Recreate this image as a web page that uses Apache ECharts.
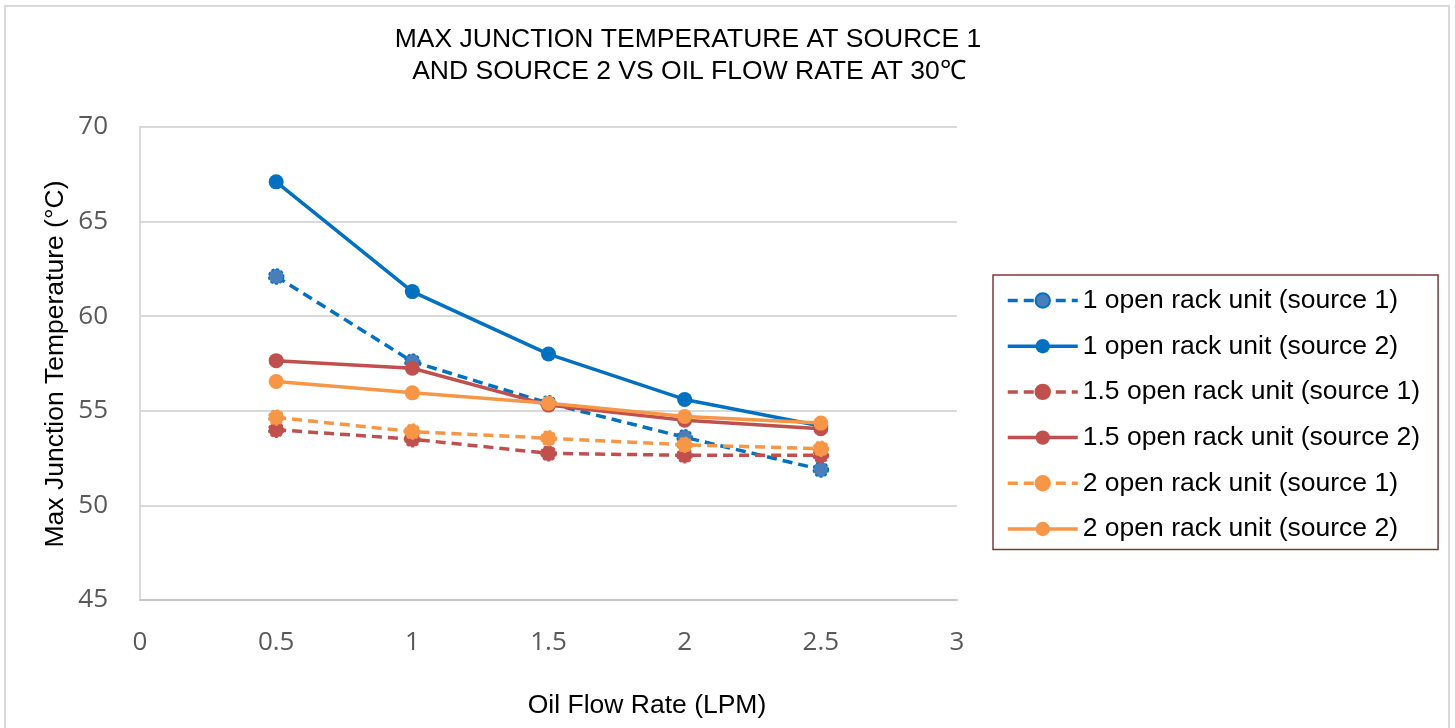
<!DOCTYPE html>
<html>
<head>
<meta charset="utf-8">
<script src="https://cdn.jsdelivr.net/npm/echarts@6/dist/echarts.min.js"></script>
<style>html,body{margin:0;padding:0;background:#fff;}#c{width:1455px;height:728px;}</style>
</head>
<body>
<div id="c"></div>
<script>
var flowRates = [0.5, 1, 1.5, 2, 2.5];
var seriesNames = [
  '1 open rack unit (source 1)',
  '1 open rack unit (source 2)',
  '1.5 open rack unit (source 1)',
  '1.5 open rack unit (source 2)',
  '2 open rack unit (source 1)',
  '2 open rack unit (source 2)'
];
var oru1Source1 = [62.1, 57.6, 55.4, 53.6, 51.9];
var oru1Source2 = [67.1, 61.3, 58.0, 55.6, 54.2];
var oru15Source1 = [54.0, 53.5, 52.75, 52.65, 52.65];
var oru15Source2 = [57.65, 57.25, 55.3, 54.5, 54.05];
var oru2Source1 = [54.65, 53.9, 53.55, 53.2, 53.0];
var oru2Source2 = [56.55, 55.95, 55.4, 54.7, 54.35];
var yTicks = [45, 50, 55, 60, 65, 70];
var xTicks = [0, 0.5, 1, 1.5, 2, 2.5, 3];

var allValues = [oru1Source1, oru1Source2, oru15Source1, oru15Source2, oru2Source1, oru2Source2];
var colors = ['#0070c0', '#0070c0', '#c0504d', '#c0504d', '#f79646', '#f79646'];
var markerFill = ['#4a7ebb', '#0070c0', '#c0504d', '#c0504d', '#f79646', '#f79646'];
var dashed = [true, false, true, false, true, false];

var FONT = "'Liberation Sans', Arial, sans-serif";
var FS = 26.5;

var series = allValues.map(function (vals, i) {
  return {
    name: seriesNames[i],
    type: 'line',
    data: vals.map(function (v, j) { return [flowRates[j], v]; }),
    symbol: 'circle',
    symbolSize: 15,
    lineStyle: { color: colors[i], width: 3.5, type: dashed[i] ? [10, 6] : 'solid' },
    itemStyle: dashed[i]
      ? { color: markerFill[i], borderColor: colors[i], borderWidth: 1.5, borderType: [3, 2] }
      : { color: markerFill[i], borderColor: colors[i], borderWidth: 0 },
    z: 2 + i,
    animation: false
  };
});

var chart = echarts.init(document.getElementById('c'));
chart.setOption({
  animation: false,
  backgroundColor: '#fff',
  grid: { left: 140, right: 498, top: 127, bottom: 128 },
  xAxis: {
    type: 'value',
    min: xTicks[0],
    max: xTicks[xTicks.length - 1],
    interval: 0.5,
    axisLine: { show: true, lineStyle: { color: '#c8c8c8', width: 2 } },
    axisTick: { show: false },
    splitLine: { show: false },
    axisLabel: { color: '#595959', fontFamily: "'Open Sans', sans-serif", fontSize: 26, margin: 30 }
  },
  yAxis: {
    type: 'value',
    min: yTicks[0],
    max: yTicks[yTicks.length - 1],
    interval: 5,
    axisLine: { show: true, lineStyle: { color: '#d9d9d9', width: 2 } },
    axisTick: { show: false },
    splitLine: { show: true, lineStyle: { color: '#d9d9d9', width: 2 } },
    axisLabel: { color: '#595959', fontFamily: "'Open Sans', sans-serif", fontSize: 26, margin: 32 }
  },
  legend: {
    orient: 'vertical',
    left: 993,
    top: 275,
    data: seriesNames,
    itemWidth: 70,
    itemHeight: 18,
    itemGap: 18.7,
    padding: [12, 18, 7, 13],
    borderColor: '#7b3a3a',
    borderWidth: 1.5,
    lineStyle: { width: 3.5 },
    textStyle: { color: '#000', fontFamily: FONT, fontSize: FS, lineHeight: 26 }
  },
  graphic: [
    { type: 'rect', silent: true, z: -1,
      shape: { x: 5, y: 6, width: 1444, height: 740 },
      style: { fill: null, stroke: '#d9d9d9', lineWidth: 2 } },
    { type: 'text', silent: true,
      style: { text: 'MAX JUNCTION TEMPERATURE AT SOURCE 1', x: 688, y: 40, textAlign: 'center', textVerticalAlign: 'middle', font: '26.5px ' + FONT, fill: '#000' } },
    { type: 'text', silent: true,
      style: { text: 'AND SOURCE 2 VS OIL FLOW RATE AT 30\u2103', x: 689, y: 72, textAlign: 'center', textVerticalAlign: 'middle', font: '26.5px ' + FONT, fill: '#000' } },
    { type: 'text', silent: true,
      style: { text: 'Oil Flow Rate (LPM)', x: 647, y: 706, textAlign: 'center', textVerticalAlign: 'middle', font: FS + 'px ' + FONT, fill: '#000' } },
    { type: 'text', silent: true, x: 56, y: 364, rotation: Math.PI / 2,
      style: { text: 'Max Junction Temperature (\u00b0C)', x: 0, y: 0, textAlign: 'center', textVerticalAlign: 'middle', font: FS + 'px ' + FONT, fill: '#000' } }
  ],
  series: series
});
</script>
</body>
</html>
